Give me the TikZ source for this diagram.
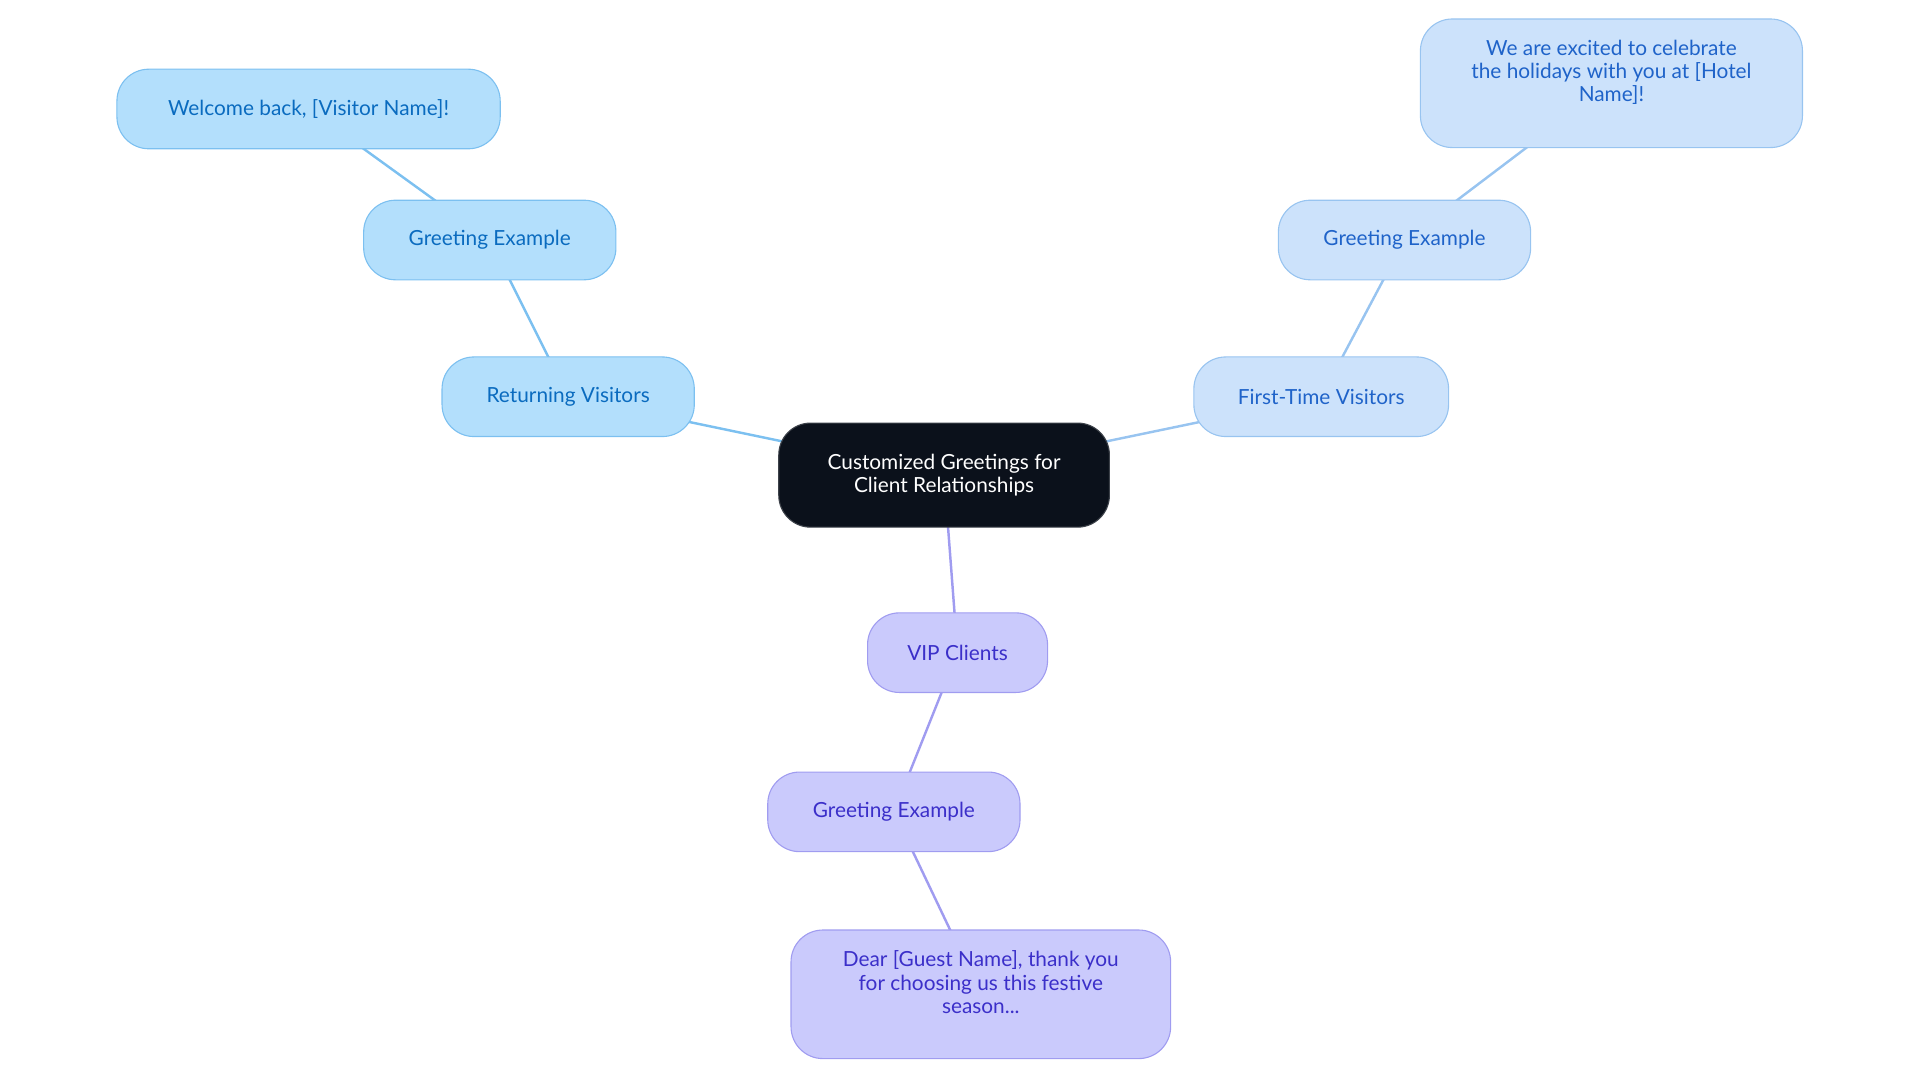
\documentclass[tikz,border=0pt]{standalone}
\usepackage{fontspec}
\setmainfont{Lato}
\usetikzlibrary{backgrounds}
\definecolor{lf}{HTML}{B3DFFC}\definecolor{ls}{HTML}{7CC0F0}\definecolor{lt}{HTML}{0A6BBF}
\definecolor{rf}{HTML}{CCE2FB}\definecolor{rs}{HTML}{98C4F0}\definecolor{rt}{HTML}{1F63C9}
\definecolor{pf}{HTML}{CACAFC}\definecolor{ps}{HTML}{A09CF0}\definecolor{pt}{HTML}{3B2FC9}
\definecolor{rootf}{HTML}{0B111B}
\begin{document}
\begin{tikzpicture}[x=1pt,y=-1pt,
 box/.style={rounded corners=26pt,line width=0.9pt,align=center,font=\fontsize{17}{19}\selectfont,inner sep=0pt},
 L/.style={box,fill=lf,draw=ls,text=lt},
 R/.style={box,fill=rf,draw=rs,text=rt},
 P/.style={box,fill=pf,draw=ps,text=pt},
 e/.style={line width=2pt}]
\useasboundingbox (0,0) rectangle (1568,884);
\node[box,fill=rootf,draw=rootf!80!white,text=white,minimum width=270pt,minimum height=85pt] (root) at (771,388) {Customized Greetings for\\Client Relationships};
\node[L,minimum width=206pt,minimum height=65pt] (rv) at (464,324) {Returning Visitors};
\node[L,minimum width=206pt,minimum height=65pt] (gl) at (400,196) {Greeting Example};
\node[L,minimum width=313pt,minimum height=65pt] (wb) at (252,89) {Welcome back, [Visitor Name]!};
\node[R,minimum width=208pt,minimum height=65pt] (fv) at (1079,324) {First-Time Visitors};
\node[R,minimum width=206pt,minimum height=65pt] (gr) at (1147,196) {Greeting Example};
\node[R,minimum width=312pt,minimum height=105pt,text depth=20pt] (we) at (1316,68) {We are excited to celebrate\\the holidays with you at [Hotel\\Name]!};
\node[P,minimum width=147pt,minimum height=65pt] (vip) at (782,533) {VIP Clients};
\node[P,minimum width=206pt,minimum height=65pt] (gv) at (730,663) {Greeting Example};
\node[P,minimum width=310pt,minimum height=105pt,text depth=20pt] (de) at (801,812) {Dear [Guest Name], thank you\\for choosing us this festive\\season...};
\begin{pgfonlayer}{background}
\draw[e,ls] (root.center) -- (rv.center) (rv.center) -- (gl.center) (gl.center) -- (wb.center);
\draw[e,rs] (root.center) -- (fv.center) (fv.center) -- (gr.center) (gr.center) -- (we.center);
\draw[e,ps] (root.center) -- (vip.center) (vip.center) -- (gv.center) (gv.center) -- (de.center);
\end{pgfonlayer}
\end{tikzpicture}
\end{document}
